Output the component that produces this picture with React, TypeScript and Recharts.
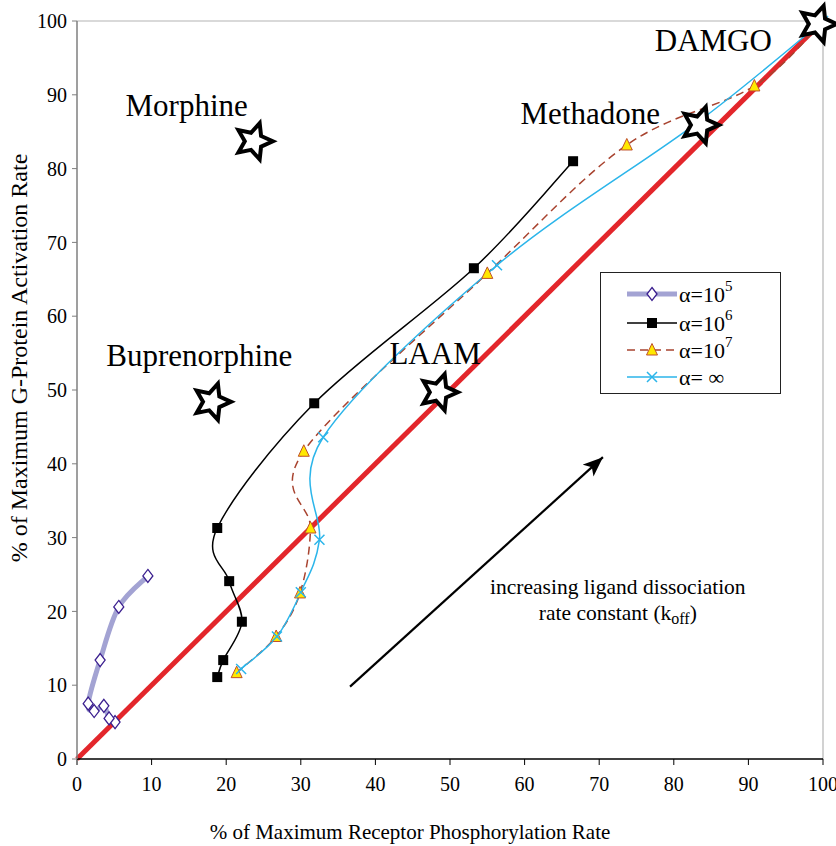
import React from 'react';
import {
  ComposedChart,
  Line,
  Scatter,
  XAxis,
  YAxis,
  ReferenceLine,
  Customized,
} from 'recharts';

// ---- series values (x: % receptor phosphorylation rate, y: % G-protein activation rate)
const alpha5X = [5.1, 4.3, 3.6, 2.3, 1.5, 3.1, 5.6, 9.5];
const alpha5Y = [5.0, 5.5, 7.2, 6.5, 7.5, 13.4, 20.6, 24.8];

const alpha6X = [18.8, 19.6, 22.1, 20.4, 18.8, 31.8, 53.2, 66.5];
const alpha6Y = [11.1, 13.4, 18.6, 24.1, 31.3, 48.2, 66.5, 81.0];

const alpha7X = [21.4, 26.7, 29.9, 31.3, 30.4, 55.0, 73.7, 90.8, 100];
const alpha7Y = [11.7, 16.6, 22.5, 31.3, 41.7, 65.8, 83.2, 91.2, 100];

const alphaInfX = [22.0, 26.8, 30.0, 32.5, 33.0, 56.3, 83.1, 100];
const alphaInfY = [12.2, 16.6, 22.6, 29.7, 43.6, 66.9, 86.2, 100];

// ---- reference ligands
const drugNames = ['Morphine', 'Buprenorphine', 'LAAM', 'Methadone', 'DAMGO'];
const drugX = [23.7, 18.1, 48.5, 83.5, 99.3];
const drugY = [83.7, 48.4, 49.7, 85.9, 99.6];
const drugLabelX = [14.7, 16.4, 48.0, 68.8, 85.3];
const drugLabelY = [88.5, 54.7, 54.9, 87.5, 97.4];

// ---- identity line and the koff arrow
const identityX = [0, 100];
const identityY = [0, 100];
const arrowFrom = { x: 36.6, y: 9.8 };
const arrowTo = { x: 70.5, y: 40.9 };
const noteX = 72.5;
const noteY = [23.3, 19.8];

const ticks = [0, 10, 20, 30, 40, 50, 60, 70, 80, 90, 100];

const zip = (xs: number[], ys: number[]) => xs.map((x, i) => ({ x, y: ys[i] }));

const alpha5 = zip(alpha5X, alpha5Y);
const alpha6 = zip(alpha6X, alpha6Y);
const alpha7 = zip(alpha7X, alpha7Y);
const alphaInf = zip(alphaInfX, alphaInfY);
const identity = zip(identityX, identityY);
const drugs = drugNames.map((name, i) => ({ name, x: drugX[i], y: drugY[i] }));
const drugLabels = drugNames.map((name, i) => ({ name, x: drugLabelX[i], y: drugLabelY[i] }));
const notes = [
  { x: noteX, y: noteY[0], line: 0 },
  { x: noteX, y: noteY[1], line: 1 },
];

const FONT = "'Liberation Serif', 'Times New Roman', serif";
const fontStyle = { fontFamily: FONT };

const COLORS = {
  a5Line: '#a3a3d3',
  a5Mark: '#3b1f8f',
  a6: '#000000',
  a7: '#a8432f',
  a7Fill: '#ffe800',
  inf: '#2bb5ea',
  identity: '#e3262b',
};

// Catmull-Rom style smoothing, compatible with d3's curve interface
const smoothCurve = (context: any) => {
  let pts: number[][] = [];
  return {
    areaStart() {},
    areaEnd() {},
    lineStart() {
      pts = [];
    },
    point(x: number, y: number) {
      pts.push([+x, +y]);
    },
    lineEnd() {
      const n = pts.length;
      if (!n) return;
      context.moveTo(pts[0][0], pts[0][1]);
      for (let i = 0; i < n - 1; i++) {
        const p0 = pts[Math.max(i - 1, 0)];
        const p1 = pts[i];
        const p2 = pts[i + 1];
        const p3 = pts[Math.min(i + 2, n - 1)];
        context.bezierCurveTo(
          p1[0] + (p2[0] - p0[0]) / 6,
          p1[1] + (p2[1] - p0[1]) / 6,
          p2[0] - (p3[0] - p1[0]) / 6,
          p2[1] - (p3[1] - p1[1]) / 6,
          p2[0],
          p2[1]
        );
      }
    },
  };
};

// ---- marker shapes
const Diamond = ({ cx, cy }: any) =>
  cx == null ? null : (
    <polygon
      points={`${cx},${cy - 6.5} ${cx + 5},${cy} ${cx},${cy + 6.5} ${cx - 5},${cy}`}
      fill="#ffffff"
      stroke={COLORS.a5Mark}
      strokeWidth={1.3}
    />
  );

const Square = ({ cx, cy }: any) =>
  cx == null ? null : <rect x={cx - 5} y={cy - 5} width={10} height={10} fill={COLORS.a6} />;

const Triangle = ({ cx, cy }: any) =>
  cx == null ? null : (
    <polygon
      points={`${cx},${cy - 6.5} ${cx + 5.5},${cy + 5} ${cx - 5.5},${cy + 5}`}
      fill={COLORS.a7Fill}
      stroke="#c0502a"
      strokeWidth={1}
    />
  );

const Cross = ({ cx, cy }: any) =>
  cx == null ? null : (
    <path
      d={`M${cx - 5},${cy - 5}L${cx + 5},${cy + 5}M${cx - 5},${cy + 5}L${cx + 5},${cy - 5}`}
      stroke={COLORS.inf}
      strokeWidth={1.5}
      fill="none"
    />
  );

const starPoints = (cx: number, cy: number, R: number, r: number, rot: number) => {
  const pts: string[] = [];
  for (let i = 0; i < 10; i++) {
    const rad = i % 2 === 0 ? R : r;
    const a = ((-90 + rot + i * 36) * Math.PI) / 180;
    pts.push(`${(cx + rad * Math.cos(a)).toFixed(2)},${(cy + rad * Math.sin(a)).toFixed(2)}`);
  }
  return pts.join(' ');
};

const Star = ({ cx, cy }: any) =>
  cx == null ? null : (
    <polygon
      points={starPoints(cx, cy, 19, 9, 18)}
      fill="#ffffff"
      stroke="#000000"
      strokeWidth={4}
      strokeLinejoin="miter"
    />
  );

const DrugLabel = ({ cx, cy, payload }: any) =>
  cx == null ? null : (
    <text
      x={cx}
      y={cy}
      textAnchor="middle"
      dominantBaseline="central"
      style={fontStyle}
      fontSize={31}
      fill="#000"
    >
      {payload.name}
    </text>
  );

const NoteLabel = ({ cx, cy, payload }: any) => {
  if (cx == null) return null;
  if (payload.line === 0) {
    return (
      <text x={cx} y={cy} textAnchor="middle" dominantBaseline="central" style={fontStyle} fontSize={21.5} fill="#000">
        increasing ligand dissociation
      </text>
    );
  }
  return (
    <text x={cx} y={cy} textAnchor="middle" dominantBaseline="central" style={fontStyle} fontSize={21.5} fill="#000">
      rate constant (k
      <tspan fontSize={16} dy={5}>
        off
      </tspan>
      <tspan dy={-5}>)</tspan>
    </text>
  );
};

// ---- legend box and arrow head definition
const legendRows = [
  { exp: '5', kind: 'a5' },
  { exp: '6', kind: 'a6' },
  { exp: '7', kind: 'a7' },
  { exp: '∞', kind: 'inf' },
];

const Extras = () => {
  const left = 600;
  const top = 272;
  const rowY = [22, 51, 78, 105];
  return (
    <g>
      <defs>
        <marker
          id="koffArrow"
          markerUnits="userSpaceOnUse"
          markerWidth={22}
          markerHeight={18}
          refX={20}
          refY={8}
          orient="auto"
        >
          <path d="M0,0 L20,8 L0,16 L5,8 Z" fill="#000" />
        </marker>
      </defs>
      <rect x={left + 0.5} y={top + 0.5} width={180} height={121} fill="#ffffff" stroke="#222" strokeWidth={1} />
      {legendRows.map((row, i) => {
        const y = top + rowY[i];
        const x1 = left + 27;
        const x2 = left + 77;
        const mx = (x1 + x2) / 2;
        let sample: React.ReactNode = null;
        if (row.kind === 'a5') {
          sample = (
            <g>
              <line x1={x1} y1={y} x2={x2} y2={y} stroke={COLORS.a5Line} strokeWidth={5} />
              <Diamond cx={mx} cy={y} />
            </g>
          );
        } else if (row.kind === 'a6') {
          sample = (
            <g>
              <line x1={x1} y1={y} x2={x2} y2={y} stroke={COLORS.a6} strokeWidth={1.5} />
              <Square cx={mx} cy={y} />
            </g>
          );
        } else if (row.kind === 'a7') {
          sample = (
            <g>
              <line x1={x1} y1={y} x2={x2} y2={y} stroke={COLORS.a7} strokeWidth={1.5} strokeDasharray="8 5" />
              <Triangle cx={mx} cy={y} />
            </g>
          );
        } else {
          sample = (
            <g>
              <line x1={x1} y1={y} x2={x2} y2={y} stroke={COLORS.inf} strokeWidth={1.5} />
              <Cross cx={mx} cy={y} />
            </g>
          );
        }
        return (
          <g key={row.kind}>
            {sample}
            <text x={left + 79} y={y} dominantBaseline="central" style={fontStyle} fontSize={22} fill="#000">
              {row.kind === 'inf' ? (
                <>
                  α= <tspan>∞</tspan>
                </>
              ) : (
                <>
                  α=10
                  <tspan fontSize={15} dy={-8}>
                    {row.exp}
                  </tspan>
                </>
              )}
            </text>
          </g>
        );
      })}
    </g>
  );
};

const YTitle = ({ viewBox }: any) => {
  const cy = viewBox ? viewBox.y + viewBox.height / 2 - 32 : 358;
  return (
    <text
      x={19}
      y={cy}
      transform={`rotate(-90, 19, ${cy})`}
      textAnchor="middle"
      dominantBaseline="central"
      style={fontStyle}
      fontSize={24}
      fill="#000"
    >
      % of Maximum G-Protein Activation Rate
    </text>
  );
};

const XTitle = ({ viewBox }: any) => {
  const cx = viewBox ? viewBox.x + viewBox.width / 2 - 40 : 410;
  return (
    <text x={cx} y={832} textAnchor="middle" dominantBaseline="central" style={fontStyle} fontSize={21} fill="#000">
      % of Maximum Receptor Phosphorylation Rate
    </text>
  );
};

export default function App() {
  const tickStyle = { fontFamily: FONT, fontSize: 20, fill: '#000', style: fontStyle };
  return (
    <div
      style={{ position: 'absolute', left: 0, top: 0, width: 836, height: 846, background: '#fff', fontFamily: FONT }}
    >
      <ComposedChart width={836} height={846} margin={{ top: 21, right: 13, bottom: 0, left: 0 }} style={fontStyle}>
        <XAxis
          type="number"
          dataKey="x"
          domain={[0, 100]}
          ticks={ticks}
          interval={0}
          height={87}
          tickSize={6}
          tickMargin={12}
          axisLine={{ stroke: '#000', strokeWidth: 1.5 }}
          tickLine={{ stroke: '#000' }}
          tick={tickStyle}
          label={<XTitle />}
        />
        <YAxis
          type="number"
          dataKey="y"
          domain={[0, 100]}
          ticks={ticks}
          interval={0}
          width={77}
          tickSize={5}
          tickMargin={5}
          axisLine={{ stroke: '#7f7f7f', strokeWidth: 1.5 }}
          tickLine={{ stroke: '#7f7f7f' }}
          tick={tickStyle}
          label={<YTitle />}
        />
        {/* plot frame */}
        <ReferenceLine y={100} stroke="#b4b4b4" strokeWidth={1.2} />
        <ReferenceLine x={100} stroke="#b4b4b4" strokeWidth={1.2} />

        <Line
          data={identity}
          dataKey="y"
          type="linear"
          stroke={COLORS.identity}
          strokeWidth={5}
          dot={false}
          activeDot={false}
          isAnimationActive={false}
        />

        <ReferenceLine
          segment={[arrowFrom, arrowTo]}
          stroke="#000"
          strokeWidth={2.2}
          markerEnd="url(#koffArrow)"
        />

        <Line
          data={alpha5}
          dataKey="y"
          type={smoothCurve as any}
          stroke={COLORS.a5Line}
          strokeWidth={5}
          dot={<Diamond />}
          activeDot={false}
          isAnimationActive={false}
        />
        <Line
          data={alpha6}
          dataKey="y"
          type={smoothCurve as any}
          stroke={COLORS.a6}
          strokeWidth={1.5}
          dot={<Square />}
          activeDot={false}
          isAnimationActive={false}
        />
        <Line
          data={alpha7}
          dataKey="y"
          type={smoothCurve as any}
          stroke={COLORS.a7}
          strokeWidth={1.5}
          strokeDasharray="8 5"
          dot={<Triangle />}
          activeDot={false}
          isAnimationActive={false}
        />
        <Line
          data={alphaInf}
          dataKey="y"
          type={smoothCurve as any}
          stroke={COLORS.inf}
          strokeWidth={1.5}
          dot={<Cross />}
          activeDot={false}
          isAnimationActive={false}
        />

        <Scatter data={drugs} dataKey="y" shape={<Star />} isAnimationActive={false} />
        <Scatter data={drugLabels} dataKey="y" shape={<DrugLabel />} isAnimationActive={false} />
        <Scatter data={notes} dataKey="y" shape={<NoteLabel />} isAnimationActive={false} />

        <Customized component={<Extras />} />
      </ComposedChart>
    </div>
  );
}
